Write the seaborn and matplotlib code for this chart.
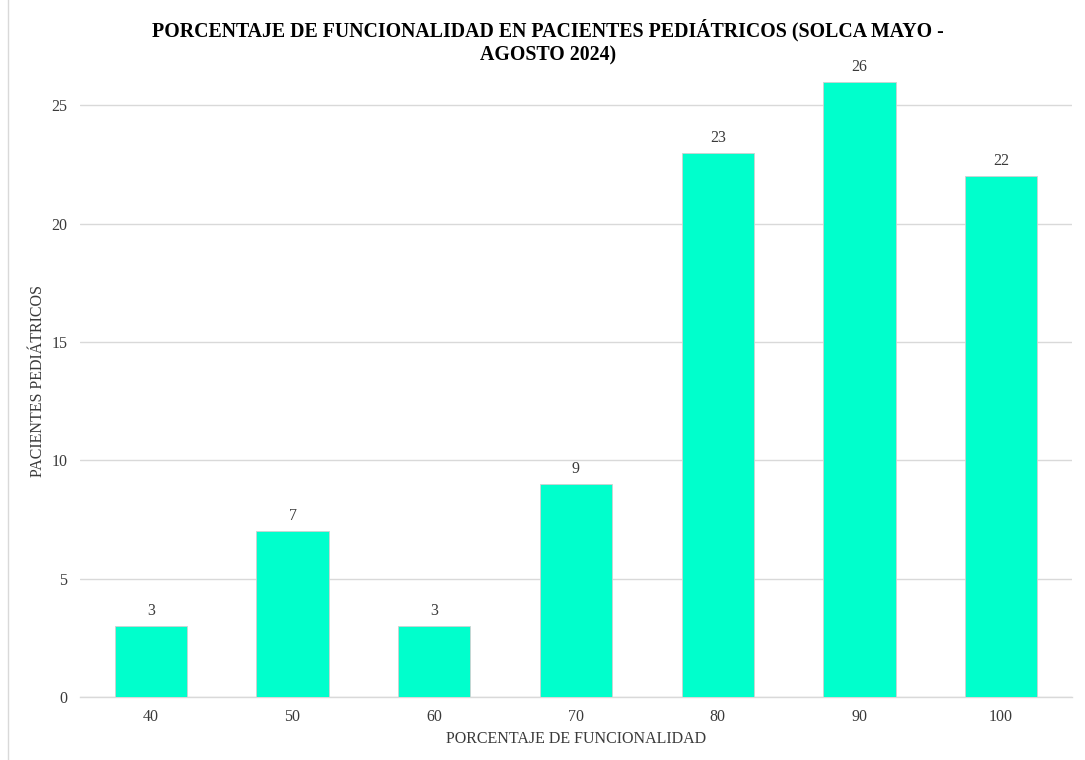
import pandas as pd
import seaborn as sns
import matplotlib.pyplot as plt
import matplotlib.patches as mpatches

# datos del gráfico
categorias = ['40', '50', '60', '70', '80', '90', '100']
pacientes = [3, 7, 3, 9, 23, 26, 22]

titulo_1 = 'PORCENTAJE DE FUNCIONALIDAD EN PACIENTES PEDIÁTRICOS (SOLCA MAYO -'
titulo_2 = 'AGOSTO 2024)'
etiqueta_x = 'PORCENTAJE DE FUNCIONALIDAD'
etiqueta_y = 'PACIENTES PEDIÁTRICOS'

df = pd.DataFrame({'categoria': categorias, 'pacientes': pacientes})

sns.set_theme(style='white')
plt.rcParams['font.family'] = ['Liberation Serif', 'DejaVu Serif']

texto = '#3a3a3a'
barra = '#00FFCC'

fig = plt.figure(figsize=(10.85, 7.6), dpi=100)
ax = fig.add_axes([0.0737, 0.0829, 0.9143, 0.8316])

sns.barplot(data=df, x='categoria', y='pacientes', order=categorias,
            color=barra, width=0.51, saturation=1, ax=ax, zorder=3,
            edgecolor='#d0d0d0', linewidth=0.6)

ax.set_ylim(0, 26.7)
ax.set_yticks([0, 5, 10, 15, 20, 25])
ax.grid(axis='y', color='#D9D9D9', linewidth=1, zorder=0)
ax.set_axisbelow(True)
for s in ['left', 'right', 'top']:
    ax.spines[s].set_visible(False)
ax.spines['bottom'].set_color('#D9D9D9')
ax.spines['bottom'].set_linewidth(1)
ax.tick_params(axis='y', length=0, labelsize=11.5, colors=texto, pad=9)
ax.tick_params(axis='x', length=0, labelsize=11.5, colors=texto, pad=9)

# etiquetas de datos
for cont in ax.containers:
    ax.bar_label(cont, padding=5, fontsize=11.5, color=texto, clip_on=False)

ax.set_xlabel(etiqueta_x, fontsize=11.5, color=texto, labelpad=4)
ax.set_ylabel(etiqueta_y, fontsize=11.5, color=texto, labelpad=4)

# título en dos líneas
fig.text(0.505, 0.9605, titulo_1, ha='center', va='center', fontsize=14.3,
         fontweight='bold', color='black')
fig.text(0.505, 0.9270, titulo_2, ha='center', va='center', fontsize=14.3,
         fontweight='bold', color='black')

# borde del área del gráfico
fig.patches.append(mpatches.Rectangle((0.0075, -0.01), 1.1, 1.2, transform=fig.transFigure,
                                      fill=False, edgecolor='#D9D9D9', linewidth=1))

plt.savefig('out.png', dpi=100)
plt.close()
